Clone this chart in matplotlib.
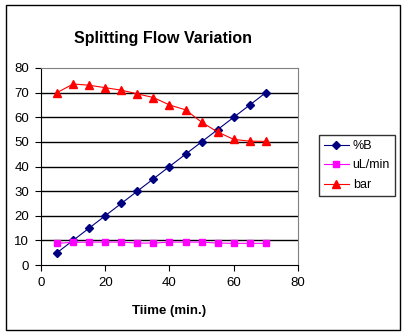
import matplotlib
matplotlib.use("Agg")
import matplotlib.pyplot as plt
from matplotlib.patches import Rectangle

# data
time_min = [5, 10, 15, 20, 25, 30, 35, 40, 45, 50, 55, 60, 65, 70]
pct_b = [5, 10, 15, 20, 25, 30, 35, 40, 45, 50, 55, 60, 65, 70]
ul_min = [8.8, 9.2, 9.3, 9.3, 9.3, 8.9, 8.9, 9.3, 9.3, 9.3, 8.9, 8.8, 8.8, 8.8]
bar = [70, 73.5, 73, 72, 71, 69.5, 68, 65, 63, 58, 54, 51, 50.3, 50.2]

plt.rcParams["font.family"] = ["Liberation Sans", "DejaVu Sans"]

W, H = 406, 335
fig = plt.figure(figsize=(W / 100, H / 100), dpi=100)
fig.patch.set_facecolor("white")

# outer chart frame
fig.patches.append(Rectangle((6 / W, 1 - 330 / H), (400 - 6) / W, (330 - 5) / H,
                             transform=fig.transFigure, fill=False,
                             edgecolor="black", linewidth=1.0))

left, right, top, bottom = 41, 298, 68, 265
ax = fig.add_axes([left / W, 1 - bottom / H, (right - left) / W, (bottom - top) / H])

ax.plot(time_min, pct_b, color="#000080", linewidth=0.8, marker="D",
        markersize=4, label="%B")
ax.plot(time_min, ul_min, color="#FF00FF", linewidth=0.8, marker="s",
        markersize=5, label="uL/min")
ax.plot(time_min, bar, color="#FF0000", linewidth=0.8, marker="^",
        markersize=6, label="bar")

ax.set_xlim(0, 80)
ax.set_ylim(0, 80)
ax.set_xticks(range(0, 81, 20))
ax.set_yticks(range(0, 81, 10))
for y in range(10, 80, 10):
    ax.axhline(y, color="black", linewidth=1.0, zorder=0)

for side in ("top", "right"):
    ax.spines[side].set_color("#808080")
for side in ("left", "bottom"):
    ax.spines[side].set_color("black")
ax.tick_params(direction="out", length=4, width=0.8, labelsize=9.5)
ax.tick_params(axis="y", pad=4.5)
ax.tick_params(axis="x", pad=5)

ax.set_xlabel("Tiime (min.)", fontsize=9.5, fontweight="bold", labelpad=11)
fig.text(163 / W, 1 - 38 / H, "Splitting Flow Variation", fontsize=11.5,
         fontweight="bold", ha="center", va="center")

leg = fig.legend(loc="center", bbox_to_anchor=(357 / W, 1 - 165.5 / H),
                 fontsize=9, frameon=True, fancybox=False, handlelength=2.0,
                 borderpad=0.4, labelspacing=0.6, handletextpad=0.3,
                 borderaxespad=0)
leg.get_frame().set_edgecolor("black")
leg.get_frame().set_linewidth(1.0)

fig.savefig("out.png", dpi=100)
